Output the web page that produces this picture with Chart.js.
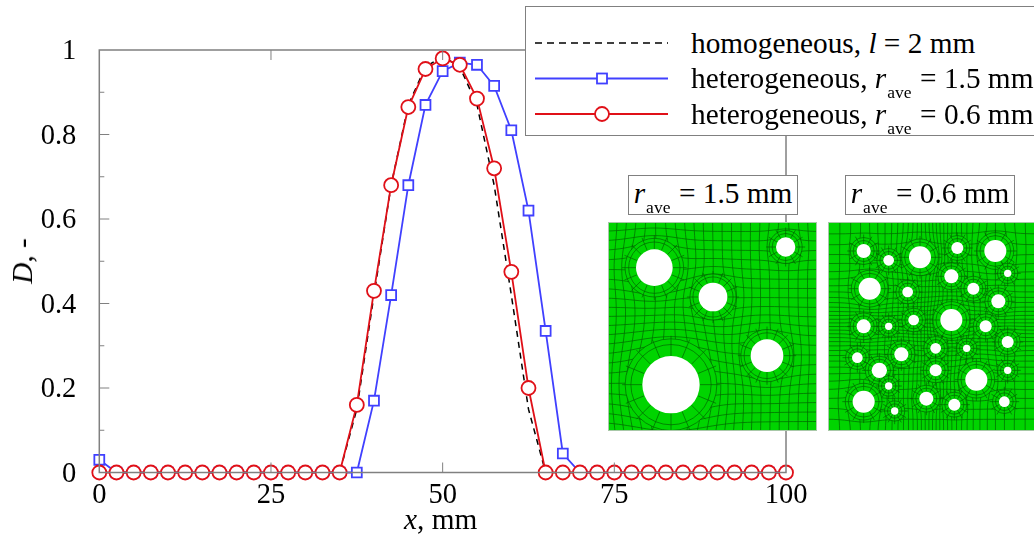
<!DOCTYPE html>
<html>
<head>
<meta charset="utf-8">
<script src="https://cdn.jsdelivr.net/npm/chart.js@4"></script>
<style>
  html, body { margin: 0; padding: 0; background: #fff; }
  #page { position: relative; width: 1034px; height: 535px; overflow: hidden; font-family: "Liberation Serif", serif; color: #000; }
  #page canvas { position: absolute; }
  i { font-style: italic; }
  .axis-title { position: absolute; font-size: 29.3px; line-height: 30px; white-space: nowrap; }
  .legend { position: absolute; left: 525px; top: 6px; width: 520px; height: 130px; box-sizing: border-box; background: #fff; border: 1.5px solid #808080; }
  .legend svg { position: absolute; left: 0; top: 0; }
  .row { position: absolute; left: 165px; font-size: 29.3px; line-height: 30px; white-space: nowrap; }
  .sub { font-size: 17.5px; position: relative; top: 10px; margin-left: 1px; margin-right: 8.5px; }
  .inset-label { position: absolute; top: 175px; width: 170px; height: 40px; box-sizing: border-box; background: #fff; border: 1.5px solid #808080; font-size: 29.3px; line-height: 35px; text-align: center; white-space: nowrap; }
</style>
</head>
<body>
<div id="page">
  <canvas id="main" width="1034" height="535" style="left:0;top:0"></canvas>
  <canvas id="inset1" width="209" height="209" style="left:608px;top:221.5px"></canvas>
  <canvas id="inset2" width="209" height="209" style="left:828px;top:221.5px"></canvas>

  <div class="axis-title" style="left:404px;top:504px"><i>x</i>, mm</div>
  <div class="axis-title" style="left:22px;top:261px;transform:translate(-50%,-50%) rotate(-90deg)"><i>D</i>, -</div>

  <div class="legend">
    <svg width="170" height="128">
      <line x1="9" x2="142" y1="36" y2="36" stroke="#000" stroke-width="1.5" stroke-dasharray="7 5"/>
      <line x1="9" x2="142" y1="71.5" y2="71.5" stroke="#4040ff" stroke-width="1.8"/>
      <rect x="71" y="66.5" width="10" height="10" fill="#fff" stroke="#4040ff" stroke-width="1.8"/>
      <line x1="9" x2="142" y1="107" y2="107" stroke="#e01018" stroke-width="1.8"/>
      <circle cx="76" cy="107" r="7" fill="#fff" stroke="#e01018" stroke-width="1.8"/>
    </svg>
    <div class="row" style="top:21px">homogeneous, <i>l</i> = 2 mm</div>
    <div class="row" style="top:56px">heterogeneous, <i>r</i><span class="sub">ave</span>= 1.5 mm</div>
    <div class="row" style="top:92px">heterogeneous, <i>r</i><span class="sub">ave</span>= 0.6 mm</div>
  </div>

  <div class="inset-label" style="left:628px"><i>r</i><span class="sub">ave</span>= 1.5 mm</div>
  <div class="inset-label" style="left:845px"><i>r</i><span class="sub">ave</span>= 0.6 mm</div>
</div>

<script>
const xValues = [0, 2.5, 5, 7.5, 10, 12.5, 15, 17.5, 20, 22.5, 25, 27.5, 30, 32.5, 35, 37.5, 40, 42.5, 45, 47.5,
  50, 52.5, 55, 57.5, 60, 62.5, 65, 67.5, 70, 72.5, 75, 77.5, 80, 82.5, 85, 87.5, 90, 92.5, 95, 97.5, 100];
const homogeneous = [0, 0, 0, 0, 0, 0, 0, 0, 0, 0, 0, 0, 0, 0, 0, 0.15, 0.42, 0.68, 0.87, 0.96,
  0.985, 0.96, 0.87, 0.68, 0.42, 0.15, 0, 0, 0, 0, 0, 0, 0, 0, 0, 0, 0, 0, 0, 0, 0];
const hetero15 = [0.03, 0, 0, 0, 0, 0, 0, 0, 0, 0, 0, 0, 0, 0, 0, 0, 0.17, 0.42, 0.68, 0.87,
  0.95, 0.97, 0.965, 0.915, 0.81, 0.62, 0.335, 0.045, 0, 0, 0, 0, 0, 0, 0, 0, 0, 0, 0, 0, 0];
const hetero06 = [0, 0, 0, 0, 0, 0, 0, 0, 0, 0, 0, 0, 0, 0, 0, 0.16, 0.43, 0.68, 0.865, 0.955,
  0.98, 0.965, 0.885, 0.72, 0.475, 0.2, 0, 0, 0, 0, 0, 0, 0, 0, 0, 0, 0, 0, 0, 0, 0];

// holes of the two meshes, same units as the inset axes (0-627)
const holes15X = [139, 315, 533, 477, 189];
const holes15Y = [137, 225, 75, 401, 488];
const holes15R = [55, 43, 29, 49, 86];
const holes06X = [107, 182, 276, 388, 502, 125, 239, 370, 436, 539, 511, 107, 182, 257, 370, 473, 539, 88, 220, 323, 416, 154, 323, 445, 539, 182, 107, 295, 379, 529, 200];
const holes06Y = [87, 115, 106, 78, 87, 200, 210, 163, 200, 154, 238, 313, 313, 294, 294, 313, 360, 407, 397, 379, 379, 445, 445, 473, 445, 492, 539, 530, 548, 539, 567];
const holes06R = [21, 16, 33, 18, 33, 33, 16, 21, 18, 11, 21, 21, 11, 16, 33, 18, 18, 16, 21, 16, 11, 23, 18, 33, 11, 11, 33, 21, 18, 16, 11];

const axisGrey = "#808080";
const meshGreen = "#00d400";

function toPoints(values) {
  return values.map((v, i) => ({ x: xValues[i], y: v }));
}

// frame and inward ticks go over the markers, like in the original plot
const frameTicks = {
  id: "frameTicks",
  afterDatasetsDraw(chart) {
    const { ctx, chartArea: a, scales } = chart;
    ctx.save();
    ctx.strokeStyle = axisGrey;
    ctx.lineWidth = 1.5;
    ctx.strokeRect(a.left, a.top, a.right - a.left, a.bottom - a.top);
    ctx.lineWidth = 1;
    ctx.beginPath();
    [25, 50, 75].forEach((v) => {
      const px = scales.x.getPixelForValue(v);
      ctx.moveTo(px, a.bottom);
      ctx.lineTo(px, a.bottom - 10);
      ctx.moveTo(px, a.top);
      ctx.lineTo(px, a.top + 10);
    });
    for (let i = 1; i < 10; i++) {
      const py = scales.y.getPixelForValue(i / 10);
      ctx.moveTo(a.left, py);
      ctx.lineTo(a.left + (i % 2 ? 5 : 10), py);
    }
    ctx.stroke();
    ctx.restore();
  },
};

new Chart(document.getElementById("main"), {
  type: "line",
  data: {
    datasets: [
      {
        label: "homogeneous, l = 2 mm",
        data: toPoints(homogeneous),
        borderColor: "#000",
        borderWidth: 1.5,
        borderDash: [6, 5],
        pointRadius: 0,
        order: 3,
      },
      {
        label: "heterogeneous, r_ave = 1.5 mm",
        data: toPoints(hetero15),
        borderColor: "#4040ff",
        borderWidth: 1.8,
        backgroundColor: "#fff",
        pointStyle: "rect",
        pointRadius: 7,
        pointBorderWidth: 1.8,
        order: 2,
      },
      {
        label: "heterogeneous, r_ave = 0.6 mm",
        data: toPoints(hetero06),
        borderColor: "#e01018",
        borderWidth: 1.8,
        backgroundColor: "#fff",
        pointStyle: "circle",
        pointRadius: 7,
        pointBorderWidth: 1.8,
        order: 1,
      },
    ],
  },
  options: {
    responsive: false,
    animation: false,
    clip: false,
    layout: { padding: { top: 50, right: 248, left: 0, bottom: 0 } },
    plugins: { legend: { display: false }, tooltip: { enabled: false } },
    scales: {
      x: {
        type: "linear",
        min: 0,
        max: 100,
        afterFit(scale) { scale.height = 62.5; scale.paddingLeft = 0; scale.paddingRight = 0; },
        grid: { display: false },
        border: { display: false },
        ticks: {
          stepSize: 25,
          padding: -2,
          maxRotation: 0,
          color: "#000",
          font: { family: "Liberation Serif", size: 28.5 },
        },
      },
      y: {
        min: 0,
        max: 1,
        afterFit(scale) { scale.width = 99.3; scale.paddingTop = 0; scale.paddingBottom = 0; },
        grid: { display: false },
        border: { display: false },
        ticks: {
          stepSize: 0.2,
          padding: 15,
          labelOffset: 2,
          callback: (v) => String(Math.round(v * 10) / 10),
          color: "#000",
          font: { family: "Liberation Serif", size: 28.5 },
        },
      },
    },
  },
  plugins: [frameTicks],
});

// pushes a mesh node away from the holes so the lines bend round them
function pushNode(px, py, hx, hy, hr) {
  let x = px, y = py;
  hx.forEach((cx, i) => {
    const dx = px - cx, dy = py - hy[i];
    const d = Math.hypot(dx, dy) || 1;
    const k = hr[i] * 0.5 * Math.exp(-Math.pow(d / (hr[i] * 2), 2));
    x += (dx / d) * k;
    y += (dy / d) * k;
  });
  return [x, y];
}

function meshPlugin(hx, hy, hr, cells, warp) {
  return {
    id: "mesh",
    beforeDatasetsDraw(chart) {
      const { ctx, scales } = chart;
      const at = (t) => 627 * (0.5 + (t - 0.5) * (1 - warp + warp * 4 * (t - 0.5) * (t - 0.5)));
      ctx.save();
      ctx.fillStyle = meshGreen;
      ctx.fillRect(0, 0, chart.width, chart.height);
      ctx.strokeStyle = "rgba(0, 90, 0, 0.8)";
      ctx.lineWidth = 0.8;
      const node = (u, v) => {
        const [nx, ny] = pushNode(at(u), at(v), hx, hy, hr);
        return [scales.x.getPixelForValue(nx), scales.y.getPixelForValue(ny)];
      };
      for (let i = 0; i <= cells; i++) {
        [0, 1].forEach((dir) => {
          ctx.beginPath();
          for (let j = 0; j <= cells * 2; j++) {
            const a = i / cells, b = j / (cells * 2);
            const p = dir ? node(a, b) : node(b, a);
            j ? ctx.lineTo(p[0], p[1]) : ctx.moveTo(p[0], p[1]);
          }
          ctx.stroke();
        });
      }
      // rings and spokes round each hole
      hx.forEach((cx, i) => {
        const px = scales.x.getPixelForValue(cx), py = scales.y.getPixelForValue(hy[i]);
        const r = hr[i] / 3;
        const ring = r + Math.max(3.5, r * 0.4);
        const outer = ring + Math.max(3, r * 0.2);
        ctx.fillStyle = meshGreen;
        ctx.beginPath();
        ctx.arc(px, py, outer, 0, Math.PI * 2);
        ctx.fill();
        ctx.beginPath();
        ctx.arc(px, py, ring, 0, Math.PI * 2);
        ctx.moveTo(px + outer, py);
        ctx.arc(px, py, outer, 0, Math.PI * 2);
        const n = r > 12 ? 16 : 12;
        for (let s = 0; s < n; s++) {
          const t = (s / n) * Math.PI * 2;
          ctx.moveTo(px + Math.cos(t) * r, py + Math.sin(t) * r);
          ctx.lineTo(px + Math.cos(t) * (outer + 3), py + Math.sin(t) * (outer + 3));
        }
        ctx.stroke();
      });
      ctx.restore();
    },
    afterDatasetsDraw(chart) {
      const { ctx } = chart;
      ctx.save();
      ctx.strokeStyle = "#a8c8a8";
      ctx.lineWidth = 1;
      ctx.strokeRect(0.5, 0.5, chart.width - 1, chart.height - 1);
      ctx.restore();
    },
  };
}

function meshChart(id, hx, hy, hr, cells, warp) {
  new Chart(document.getElementById(id), {
    type: "bubble",
    data: {
      datasets: [{
        data: hx.map((x, i) => ({ x, y: hy[i], r: hr[i] / 3 })),
        backgroundColor: "#fff",
        borderWidth: 0,
      }],
    },
    options: {
      responsive: false,
      animation: false,
      layout: { padding: 0, autoPadding: false },
      plugins: { legend: { display: false }, tooltip: { enabled: false } },
      scales: {
        x: { display: false, min: 0, max: 627 },
        y: { display: false, min: 0, max: 627, reverse: true },
      },
    },
    plugins: [meshPlugin(hx, hy, hr, cells, warp)],
  });
}

meshChart("inset1", holes15X, holes15Y, holes15R, 22, 0);
meshChart("inset2", holes06X, holes06Y, holes06R, 32, 0.45);
</script>
</body>
</html>
